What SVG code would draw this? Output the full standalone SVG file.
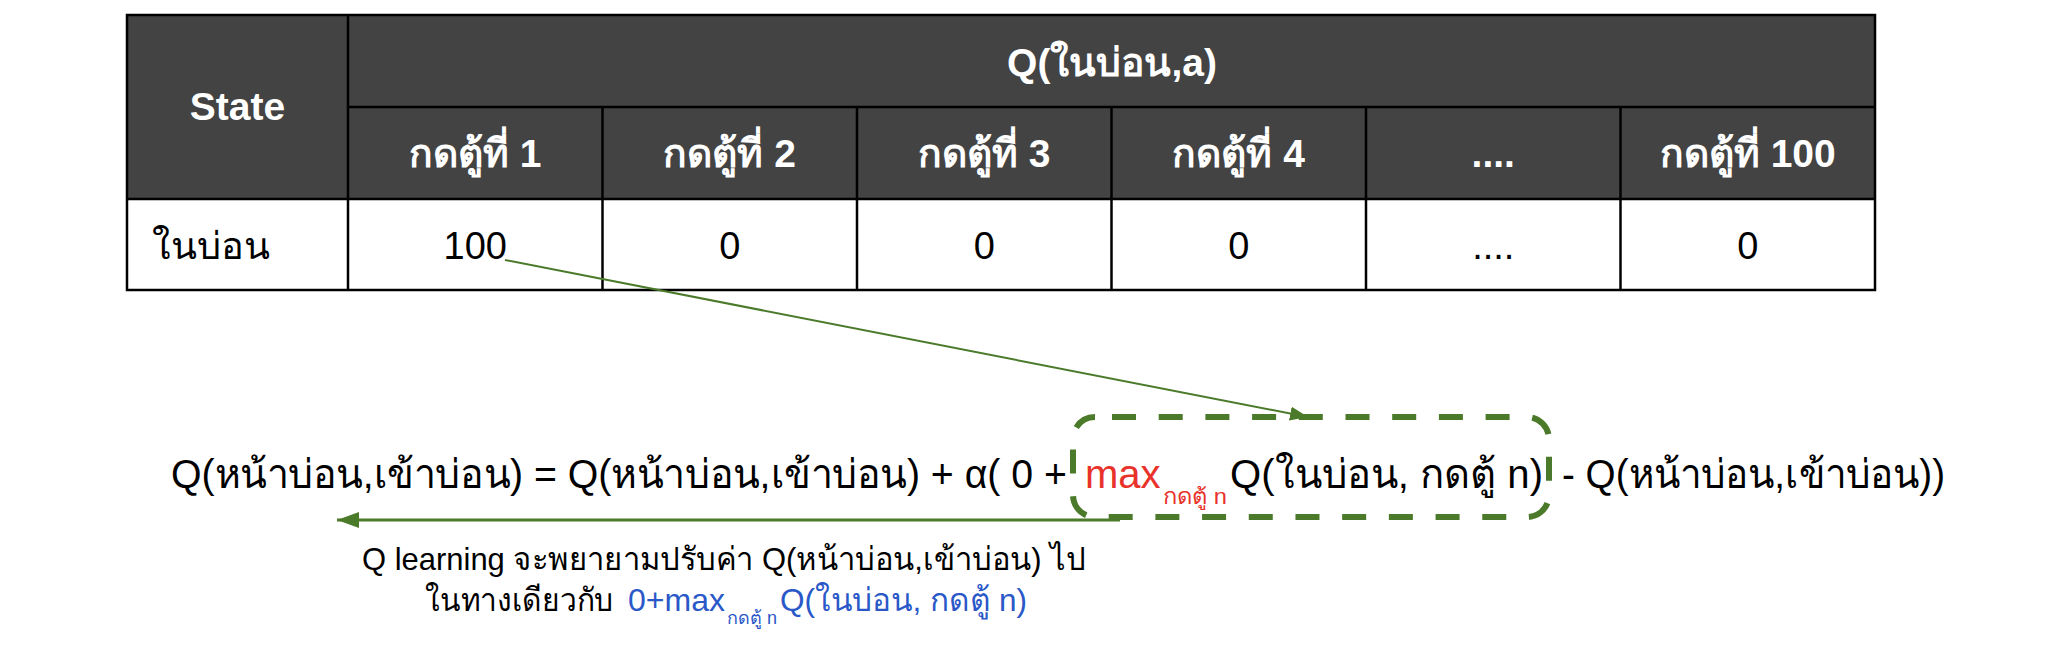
<svg xmlns="http://www.w3.org/2000/svg" width="2062" height="648" viewBox="0 0 2062 648">
<style>
text{font-family:"Liberation Sans","Noto Sans","DejaVu Sans",sans-serif;}
.hd{font-weight:bold;font-size:39px;fill:#ffffff;text-anchor:middle;}
.cell{font-size:38px;fill:#000000;text-anchor:middle;}
.grid{stroke:#000000;stroke-width:2.5;fill:none;}
.f{font-size:40px;fill:#000000;}
.cap{font-size:32px;fill:#000000;}
text.red{fill:#e8322a;}
text.blue{fill:#2a58c8;}
.conn{stroke:#4a7a2a;fill:none;}
</style>
<defs>
<marker id="ah" markerUnits="userSpaceOnUse" markerWidth="20" markerHeight="14" refX="18" refY="7" orient="auto">
<path d="M0,0 L18,7 L0,14 Z" fill="#4a7a2a"/>
</marker>
<marker id="ah2" markerUnits="userSpaceOnUse" markerWidth="24" markerHeight="16" refX="22" refY="8" orient="auto">
<path d="M0,0 L22,8 L0,16 Z" fill="#4a7a2a"/>
</marker>
</defs>
<rect width="2062" height="648" fill="#ffffff"/>

<g id="table">
<rect x="127" y="15" width="1748" height="184" fill="#434343"/>
<rect x="127" y="199" width="1748" height="91" fill="#ffffff"/>
<rect class="grid" x="127" y="15" width="1748" height="275"/>
<line class="grid" x1="348" y1="15" x2="348" y2="290"/>
<line class="grid" x1="348" y1="107" x2="1875" y2="107"/>
<line class="grid" x1="127" y1="199" x2="1875" y2="199"/>
<line class="grid" x1="602.5" y1="107" x2="602.5" y2="290"/>
<line class="grid" x1="857" y1="107" x2="857" y2="290"/>
<line class="grid" x1="1111.5" y1="107" x2="1111.5" y2="290"/>
<line class="grid" x1="1366" y1="107" x2="1366" y2="290"/>
<line class="grid" x1="1620.5" y1="107" x2="1620.5" y2="290"/>
<text class="hd" x="237.5" y="120">State</text>
<text class="hd" x="1112" y="76">Q(ในบ่อน,a)</text>
<text class="hd" x="475.25" y="167">กดตู้ที่ 1</text>
<text class="hd" x="729.75" y="167">กดตู้ที่ 2</text>
<text class="hd" x="984.25" y="167">กดตู้ที่ 3</text>
<text class="hd" x="1238.75" y="167">กดตู้ที่ 4</text>
<text class="hd" x="1493.25" y="167">....</text>
<text class="hd" x="1747.75" y="167">กดตู้ที่ 100</text>
<text class="cell" x="152" y="259" style="text-anchor:start">ในบ่อน</text>
<text class="cell" x="475.25" y="259">100</text>
<text class="cell" x="729.75" y="259">0</text>
<text class="cell" x="984.25" y="259">0</text>
<text class="cell" x="1238.75" y="259">0</text>
<text class="cell" x="1493.25" y="259">....</text>
<text class="cell" x="1747.75" y="259">0</text>
</g>

<g id="formula">
<text class="f" x="171" y="488" textLength="896" lengthAdjust="spacingAndGlyphs">Q(หน้าบ่อน,เข้าบ่อน) = Q(หน้าบ่อน,เข้าบ่อน) + α( 0 +</text>
<text class="f red" x="1085" y="488">max</text>
<text class="red" x="1163" y="504" font-size="22" textLength="64" lengthAdjust="spacingAndGlyphs">กดตู้ n</text>
<text class="f" x="1230" y="488" textLength="313" lengthAdjust="spacingAndGlyphs">Q(ในบ่อน, กดตู้ n)</text>
<text class="f" x="1562" y="488" textLength="383" lengthAdjust="spacingAndGlyphs">- Q(หน้าบ่อน,เข้าบ่อน))</text>
</g>

<g id="highlight">
<rect x="1073" y="417" width="476" height="100" rx="22" ry="22" fill="none" stroke="#4a7a2a" stroke-width="6" stroke-dasharray="24 22.7" stroke-dashoffset="29.7"/>
</g>

<g id="caption">
<text class="cap" x="362" y="570" textLength="723" lengthAdjust="spacingAndGlyphs">Q learning จะพยายามปรับค่า Q(หน้าบ่อน,เข้าบ่อน) ไป</text>
<text class="cap" x="425" y="611" textLength="188" lengthAdjust="spacingAndGlyphs">ในทางเดียวกับ</text>
<text class="cap blue" x="628" y="611">0+max</text>
<text class="blue" x="727" y="624" font-size="18" textLength="50" lengthAdjust="spacingAndGlyphs">กดตู้ n</text>
<text class="cap blue" x="780" y="611" textLength="247" lengthAdjust="spacingAndGlyphs">Q(ในบ่อน, กดตู้ n)</text>
</g>

<g id="connectors">
<line class="conn" x1="505" y1="260" x2="1308" y2="417" stroke-width="2" marker-end="url(#ah)"/>
<line class="conn" x1="1120" y1="520" x2="337" y2="520" stroke-width="3" marker-end="url(#ah2)"/>
</g>
</svg>
